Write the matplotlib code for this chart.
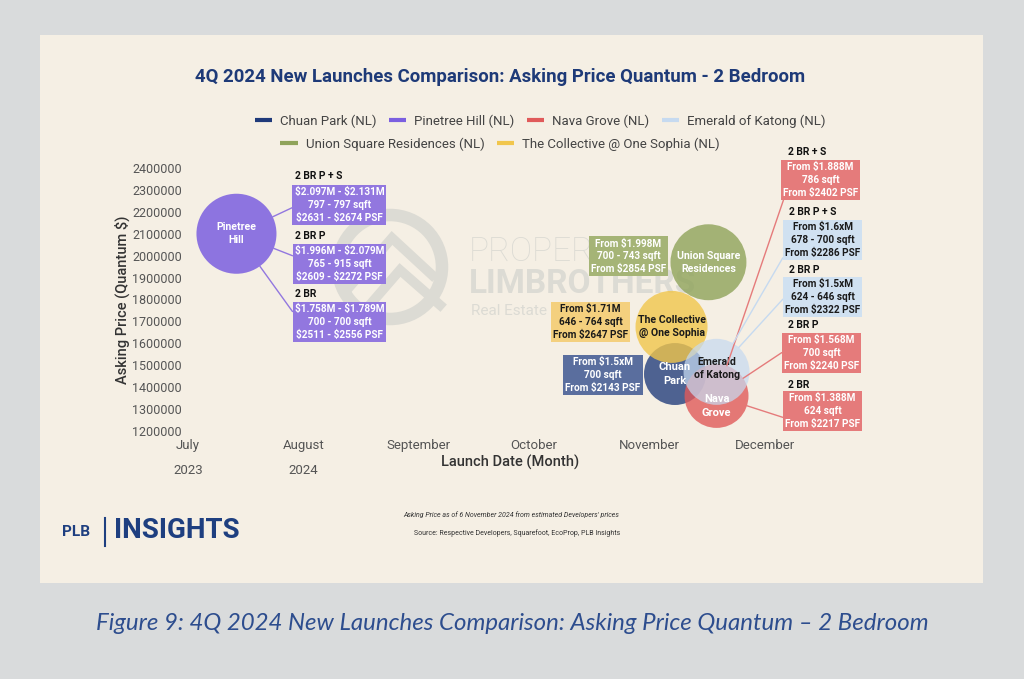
import matplotlib
matplotlib.use('Agg')
import matplotlib.pyplot as plt
from matplotlib.patches import Rectangle, Ellipse
from matplotlib.lines import Line2D

plt.rcParams['text.parse_math'] = False

# ---------------- data ----------------
months = ['July', 'August', 'September', 'October', 'November', 'December']
years = ['2023', '2024', '', '', '', '']
projects = ['Chuan Park (NL)', 'Pinetree Hill (NL)', 'Nava Grove (NL)',
            'Emerald of Katong (NL)', 'Union Square Residences (NL)',
            'The Collective @ One Sophia (NL)']
bubble_names = ['Chuan\nPark', 'Pinetree\nHill', 'Nava\nGrove', 'Emerald\nof Katong',
                'Union Square\nResidences', 'The Collective\n@ One Sophia']
launch_month = [4.22, 0.42, 4.58, 4.58, 4.51, 4.19]
asking_price = [1460000, 2100000, 1360000, 1470000, 1970000, 1675000]
bubble_size = [1990, 3320, 2120, 2260, 2990, 2690]
y_ticks = list(range(1200000, 2400001, 100000))

unit_types = ['2 BR P + S', '2 BR P', '2 BR',
              '2 BR + S', '2 BR P + S', '2 BR P', '2 BR P', '2 BR', '', '', '']
unit_project = [1, 1, 1, 2, 3, 3, 2, 2, 4, 5, 0]
unit_text = ['$2.097M - $2.131M\n797 - 797 sqft\n$2631 - $2674 PSF',
             '$1.996M - $2.079M\n765 - 915 sqft\n$2609 - $2272 PSF',
             '$1.758M - $1.789M\n700 - 700 sqft\n$2511 - $2556 PSF',
             'From $1.888M\n786 sqft\nFrom $2402 PSF',
             'From $1.6xM\n678 - 700 sqft\nFrom $2286 PSF',
             'From $1.5xM\n624 - 646 sqft\nFrom $2322 PSF',
             'From $1.568M\n700 sqft\nFrom $2240 PSF',
             'From $1.388M\n624 sqft\nFrom $2217 PSF',
             'From $1.998M\n700 - 743 sqft\nFrom $2854 PSF',
             'From $1.71M\n646 - 764 sqft\nFrom $2647 PSF',
             'From $1.5xM\n700 sqft\nFrom $2143 PSF']

# ---------------- styles ----------------
series_colors = ['#1f3a7a', '#7b5fe0', '#e05a5a', '#c6daf0', '#8fa35a', '#f1c64c']
bubble_alpha = [0.78, 0.85, 0.8, 0.72, 0.8, 0.8]
bubble_z = [3.0, 3.0, 3.2, 3.4, 3.0, 3.1]
label_color = ['white', 'white', 'white', '#1a1a1a', 'white', '#1a1a1a']
label_shift = [0, 0, 10, -3, 0, 0]   # pixels (down positive)
box_fc = {0: '#5a6e9e', 1: '#9277df', 2: '#e57b7b', 3: '#d0e1f1', 4: '#a5b476', 5: '#f4d07e'}
box_tc = {0: 'white', 1: 'white', 2: 'white', 3: '#1a1a1a', 4: 'white', 5: '#1a1a1a'}
line_c = {1: '#9277df', 2: '#e57b7b', 3: '#c6daf0'}
# layout (offset pixels from the bubble centre): box centre, heading left/centre, link anchor
box_off = [(103, 29), (103, -30), (103, -88),
           (104, 216), (106, 132), (106, 75), (105, 43), (106, -15),
           (-80, 6), (-81, 5), (-72, -1)]
head_off = [(59, 58), (59, -2), (59, -60),
            (71, 244), (72, 160), (72, 102), (71, 71), (71, 11),
            None, None, None]
link_rel = [(0, 0.45), (0, 0.7), (0, 0.7),
            (0.02, 0.02), (0, 0.1), (0, 0.5), (0, 0.55), (0, 0.3),
            None, None, None]

FONT = 'Roboto'
W, H = 1024, 679
fig = plt.figure(figsize=(W / 100, H / 100), dpi=100, facecolor='#d9dbdc')
fig.patches.append(Rectangle((40 / W, 1 - 583 / H), 943 / W, 548 / H,
                             transform=fig.transFigure, fc='#f5efe4', ec='none', zorder=-5))

ax_l, ax_r, ax_t, ax_b = 186, 870, 168, 431
ax = fig.add_axes([ax_l / W, 1 - ax_b / H, (ax_r - ax_l) / W, (ax_b - ax_t) / H])
ax.set_facecolor('none')
px_per_month = 115.4
ax.set_xlim(-(188 - ax_l) / px_per_month, (ax_r - 188) / px_per_month)
ax.set_ylim(1200000, 2400000)
for s in ax.spines.values():
    s.set_visible(False)


def fx(p):
    return p / W


def fy(p):
    return 1 - p / H


# watermark
wm = '#dcdbd4'
ax.add_patch(Ellipse((fx(390), fy(267)), 104 / W, 104 / H, transform=fig.transFigure,
                     fill=False, ec=wm, lw=9, zorder=0.5))
for pts in ([(345, 292), (392, 238), (432, 275)], [(355, 322), (400, 270), (440, 305)]):
    ax.add_line(Line2D([fx(p[0]) for p in pts], [fy(p[1]) for p in pts], transform=fig.transFigure,
                       color=wm, lw=7, solid_joinstyle='miter', zorder=0.5))
ax.text(fx(469), fy(252), 'PROPERTY', transform=fig.transFigure, fontsize=24, color=wm,
        family=FONT, fontweight='light', va='center', ha='left', zorder=0.5)
ax.text(fx(469), fy(284), 'LIMBROTHERS', transform=fig.transFigure, fontsize=24, color=wm,
        family=FONT, fontweight='bold', va='center', ha='left', zorder=0.5)
ax.text(fx(471), fy(311), 'Real Estate', transform=fig.transFigure, fontsize=11, color=wm,
        family=FONT, va='center', ha='left', zorder=0.5)

# bubbles
for i in range(len(projects)):
    ax.scatter(launch_month[i], asking_price[i], s=bubble_size[i], color=series_colors[i],
               alpha=bubble_alpha[i], edgecolors='none', zorder=bubble_z[i])
for i in range(len(projects)):
    ax.annotate(bubble_names[i], xy=(launch_month[i], asking_price[i]),
                xytext=(0, -label_shift[i]), textcoords='offset pixels', ha='center', va='center',
                fontsize=7.6 if len(bubble_names[i]) > 12 else 8, fontweight='bold', family=FONT,
                color=label_color[i], linespacing=1.4, zorder=5)

# unit boxes
for k in range(len(unit_text)):
    p = unit_project[k]
    xy = (launch_month[p], asking_price[p])
    kw = {}
    if link_rel[k] is not None:
        r_pts = bubble_size[p] ** 0.5 / 2
        kw['arrowprops'] = dict(arrowstyle='-', color=line_c[p], lw=1.0, shrinkA=0,
                                shrinkB=r_pts, relpos=link_rel[k])
    ax.annotate(unit_text[k], xy=xy, xytext=box_off[k], textcoords='offset pixels',
                ha='center', va='center', fontsize=7.2, fontweight='bold', family=FONT,
                color=box_tc[p], linespacing=1.33,
                bbox=dict(boxstyle='square,pad=0.22', fc=box_fc[p], ec='none'),
                zorder=6, annotation_clip=False, **kw)
    if head_off[k] is not None:
        ax.annotate(unit_types[k], xy=xy, xytext=head_off[k], textcoords='offset pixels',
                    ha='left', va='center', fontsize=7.4, fontweight='bold', family=FONT,
                    color='#111111', zorder=6, annotation_clip=False)

# axes ticks & labels
ax.set_yticks(y_ticks)
ax.set_yticklabels([str(v) for v in y_ticks], family=FONT, fontsize=9, color='#555555')
ax.set_xticks(range(len(months)))
ax.set_xticklabels([m + ('\n' + y if y else '') for m, y in zip(months, years)],
                   family=FONT, fontsize=9.5, color='#555555')
for lab in ax.get_xticklabels():
    lab.set_linespacing(2.2)
ax.tick_params(axis='both', length=0)
ax.tick_params(axis='y', pad=3)
ax.tick_params(axis='x', pad=6)
ax.set_xlabel('Launch Date (Month)', family=FONT, fontsize=10.5, color='#333333', fontweight='medium')
ax.xaxis.set_label_coords((510 - ax_l) / (ax_r - ax_l), -(462 - ax_b) / (ax_b - ax_t))
ax.xaxis.label.set_va('center')
ax.set_ylabel('Asking Price (Quantum $)', family=FONT, fontsize=10.5, color='#333333', fontweight='medium')
ax.yaxis.set_label_coords((122 - ax_l) / (ax_r - ax_l), (ax_b - 300) / (ax_b - ax_t))
ax.yaxis.label.set_va('center')

# title
fig.text(fx(500), fy(77), '4Q 2024 New Launches Comparison: Asking Price Quantum - 2 Bedroom',
         ha='center', va='center', fontsize=13.4, fontweight='bold', family=FONT, color='#1e3a78')

# legends (two centred rows)
handles = [Line2D([], [], color=c, lw=3, solid_capstyle='butt') for c in series_colors]
leg_kw = dict(frameon=False, handlelength=1.3, handletextpad=0.6, columnspacing=0.95,
              borderpad=0, prop={'family': FONT, 'size': 9.5}, labelcolor='#444444')
fig.legend(handles[:4], projects[:4], loc='center', ncol=4,
           bbox_to_anchor=(fx(540), fy(121)), **leg_kw)
fig.legend(handles[4:], projects[4:], loc='center', ncol=2,
           bbox_to_anchor=(fx(500), fy(144)), **leg_kw)

# footnotes
fig.text(fx(511), fy(515), "Asking Price as of 6 November 2024 from estimated Developers' prices",
         ha='center', va='center', fontsize=5, style='italic', family=FONT, color='#333333')
fig.text(fx(517), fy(533), 'Source: Respective Developers, Squarefoot, EcoProp, PLB Insights',
         ha='center', va='center', fontsize=5, family=FONT, color='#333333')

# logo
navy = '#1e3f80'
fig.text(fx(62), fy(532), 'PLB', ha='left', va='center', fontsize=11, fontweight='bold',
         family=FONT, color=navy)
fig.add_artist(Line2D([fx(105), fx(105)], [fy(518), fy(546)], color=navy, lw=1.5))
fig.text(fx(114), fy(531), 'INSIGHTS', ha='left', va='center', fontsize=20, fontweight='bold',
         family=FONT, color=navy)

# caption
fig.text(fx(512), fy(624), 'Figure 9: 4Q 2024 New Launches Comparison: Asking Price Quantum \u2013 2 Bedroom',
         ha='center', va='center', fontsize=17.3, style='italic', family='Lato', color='#2d4d8e')

fig.savefig('out.png', dpi=100, facecolor=fig.get_facecolor())
